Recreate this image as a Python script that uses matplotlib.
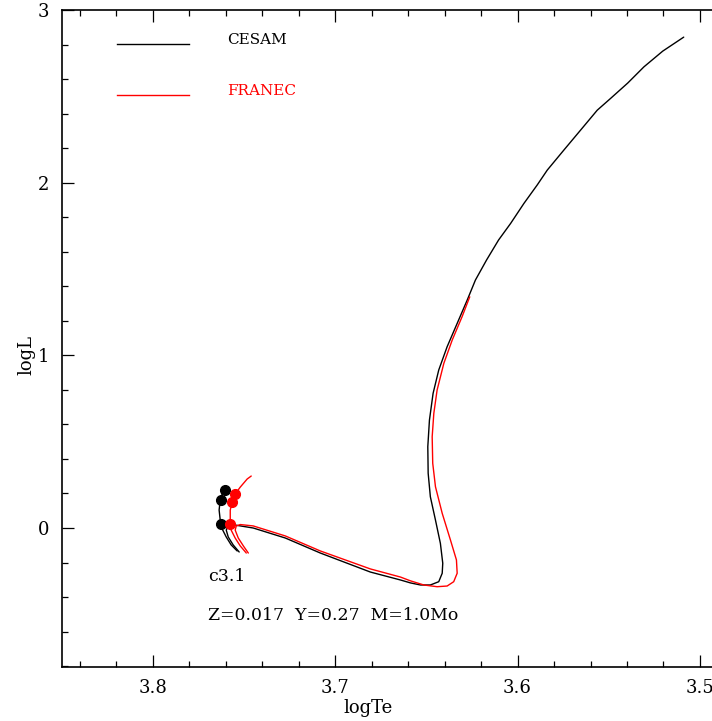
import matplotlib
matplotlib.use("Agg")
import matplotlib.pyplot as plt
from matplotlib.ticker import MultipleLocator

# CESAM track, pre-MS / MS piece and post-ZAMS piece (logTe, logL)
cesam_ms_te = [3.7537, 3.7570, 3.7597, 3.7619, 3.7630, 3.7636, 3.7630, 3.7619, 3.7602]
cesam_ms_l = [-0.133, -0.098, -0.052, -0.006, 0.046, 0.104, 0.162, 0.197, 0.220]

cesam_te = [3.7526, 3.7559, 3.7586, 3.7597, 3.7586, 3.7548, 3.7449, 3.7273, 3.7081,
            3.6807, 3.6642, 3.6587, 3.6532, 3.6478, 3.6432, 3.6413, 3.6410, 3.6423,
            3.6450, 3.6478, 3.6490, 3.6492, 3.6483, 3.6463, 3.6432, 3.6386, 3.6331,
            3.6276, 3.6231, 3.6170, 3.6104, 3.6038, 3.5965, 3.5892, 3.5837, 3.5746,
            3.5654, 3.5563, 3.5490, 3.5396, 3.5307, 3.5204, 3.5089]
cesam_l = [-0.139, -0.098, -0.052, -0.012, 0.012, 0.017, 0.000, -0.058, -0.145,
           -0.255, -0.301, -0.318, -0.330, -0.330, -0.311, -0.262, -0.204, -0.089,
           0.046, 0.181, 0.317, 0.471, 0.625, 0.780, 0.915, 1.050, 1.185,
           1.320, 1.436, 1.552, 1.668, 1.764, 1.880, 1.987, 2.073, 2.189,
           2.305, 2.420, 2.488, 2.577, 2.671, 2.762, 2.843]

# FRANEC track
franec_ms_te = [3.7487, 3.7520, 3.7548, 3.7570, 3.7575, 3.7575, 3.7564, 3.7548,
                3.7520, 3.7482, 3.7460]
franec_ms_l = [-0.145, -0.104, -0.058, -0.012, 0.046, 0.104, 0.151, 0.197,
               0.237, 0.284, 0.301]

franec_te = [3.7476, 3.7503, 3.7531, 3.7548, 3.7542, 3.7520, 3.7449, 3.7273, 3.7081,
             3.6807, 3.6642, 3.6587, 3.6514, 3.6441, 3.6386, 3.6350, 3.6331, 3.6335,
             3.6368, 3.6413, 3.6450, 3.6465, 3.6468, 3.6459, 3.6441, 3.6404, 3.6358,
             3.6304, 3.6262]
franec_l = [-0.145, -0.104, -0.058, -0.012, 0.012, 0.020, 0.012, -0.046, -0.133,
            -0.237, -0.284, -0.306, -0.330, -0.340, -0.336, -0.311, -0.262, -0.185,
            -0.069, 0.085, 0.239, 0.375, 0.529, 0.664, 0.799, 0.954, 1.089,
            1.224, 1.339]

# marked points
cesam_pts_te = [3.7625, 3.7625, 3.7602]
cesam_pts_l = [0.023, 0.162, 0.220]
franec_pts_te = [3.7575, 3.7564, 3.7547]
franec_pts_l = [0.023, 0.151, 0.197]

FONT = "DejaVu Serif"

fig = plt.figure(figsize=(7.12, 7.21), dpi=100)
ax = fig.add_axes([0.0864, 0.0749, 1 - 0.0864, 0.9861 - 0.0749])

lw = 1.0
kw = dict(lw=lw, solid_joinstyle="round", solid_capstyle="round")
ax.plot(cesam_ms_te, cesam_ms_l, color="black", **kw)
ax.plot(cesam_te, cesam_l, color="black", **kw)
ax.plot(franec_ms_te, franec_ms_l, color="red", **kw)
ax.plot(franec_te, franec_l, color="red", **kw)
ax.plot(cesam_pts_te, cesam_pts_l, "o", color="black", ms=7, ls="none")
ax.plot(franec_pts_te, franec_pts_l, "o", color="red", ms=7, ls="none")

# legend drawn by hand, like the original
ax.plot([3.8195, 3.78], [2.803, 2.803], color="black", lw=lw)
ax.plot([3.8195, 3.78], [2.507, 2.507], color="red", lw=lw)
ax.text(3.7592, 2.826, "CESAM", color="black", fontsize=11, family=FONT, va="center")
ax.text(3.7592, 2.530, "FRANEC", color="red", fontsize=11, family=FONT, va="center")

ax.text(3.7696, -0.278, "c3.1", fontsize=12.5, family=FONT, va="center")
ax.text(3.7696, -0.505, "Z=0.017  Y=0.27  M=1.0Mo", fontsize=12.4, family=FONT,
        va="center")

ax.set_xlim(3.85, 3.4934)
ax.set_ylim(-0.805, 3.0)
ax.xaxis.set_major_locator(MultipleLocator(0.1))
ax.xaxis.set_minor_locator(MultipleLocator(0.02))
ax.yaxis.set_major_locator(MultipleLocator(1))
ax.yaxis.set_minor_locator(MultipleLocator(0.2))
ax.tick_params(which="both", direction="in", top=True, right=False, width=0.9)
ax.tick_params(which="major", length=8.5, labelsize=13, pad=9)
ax.tick_params(which="minor", length=4.3)
for lab in ax.get_xticklabels() + ax.get_yticklabels():
    lab.set_family(FONT)
for sp in ax.spines.values():
    sp.set_linewidth(1.2)
ax.spines["right"].set_visible(False)

ax.set_xlabel("logTe", fontsize=13, family=FONT, va="center")
ax.set_ylabel("logL", fontsize=13, family=FONT, va="center")
ax.xaxis.set_label_coords(0.471, -0.0624)
ax.yaxis.set_label_coords(-0.0546, 0.475)

fig.savefig("out.png", dpi=100)
